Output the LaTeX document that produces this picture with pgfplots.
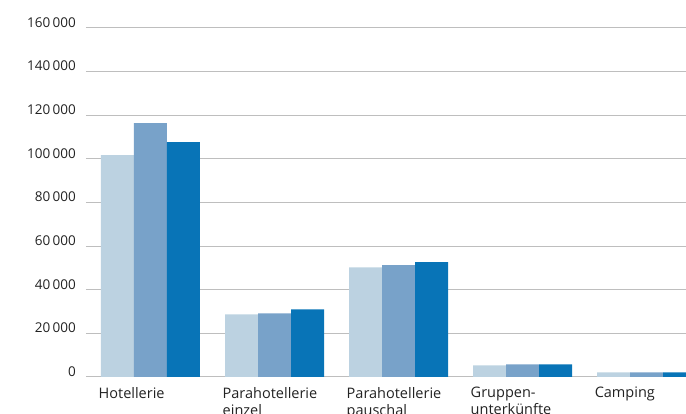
\documentclass[border=0pt]{standalone}
\usepackage{pgfplots}
\pgfplotsset{compat=1.18}
\usepackage{fontspec}
\setmainfont{Open Sans}
\definecolor{c1}{HTML}{BCD2E1}
\definecolor{c2}{HTML}{78A2C9}
\definecolor{c3}{HTML}{0874B7}
\definecolor{txt}{HTML}{222222}
\definecolor{gridc}{HTML}{BEBEBE}
\begin{document}
\begin{tikzpicture}
\begin{axis}[name=ax, at={(0,0)}, anchor=south west,
  scale only axis, width=600pt, height=349pt,
  xmin=-0.52, xmax=4.318, ymin=0, ymax=160000,
  ybar=0pt, bar width=33pt,
  axis line style={draw=none},
  major tick length=0pt, tick style={draw=none},
  ymajorgrids, grid style={gridc, line width=1pt},
  ytick={0,20000,...,160000},
  scaled y ticks=false,
  yticklabel style={/pgf/number format/fixed, /pgf/number format/1000 sep={\,},
    /pgf/number format/assume math mode=true,
    font=\fontsize{13.5}{16}\selectfont, text=txt, inner sep=0pt, xshift=-10pt, yshift=5.5pt},
  xtick={0,1,2,3,4},
  xticklabels={Hotellerie,{Parahotellerie\\einzel},{Parahotellerie\\pauschal},{Gruppen-\\unterkünfte},Camping},
  xticklabel style={anchor=north west, align=left, inner sep=0pt, xshift=-52pt, yshift=-10pt,
    font=\fontsize{14.5}{17}\selectfont, text=txt},
  clip=true,
]
\addplot[draw=none, fill=c1] coordinates {(0,101700) (1,28760) (2,50300) (3,5370) (4,2150)};
\addplot[draw=none, fill=c2] coordinates {(0,116400) (1,29220) (2,51240) (3,5830) (4,2150)};
\addplot[draw=none, fill=c3] coordinates {(0,107650) (1,31050) (2,52620) (3,5830) (4,2150)};
\end{axis}
\pgfresetboundingbox
\path[use as bounding box] (-86pt,-37pt) rectangle (600pt,377pt);
\end{tikzpicture}
\end{document}
